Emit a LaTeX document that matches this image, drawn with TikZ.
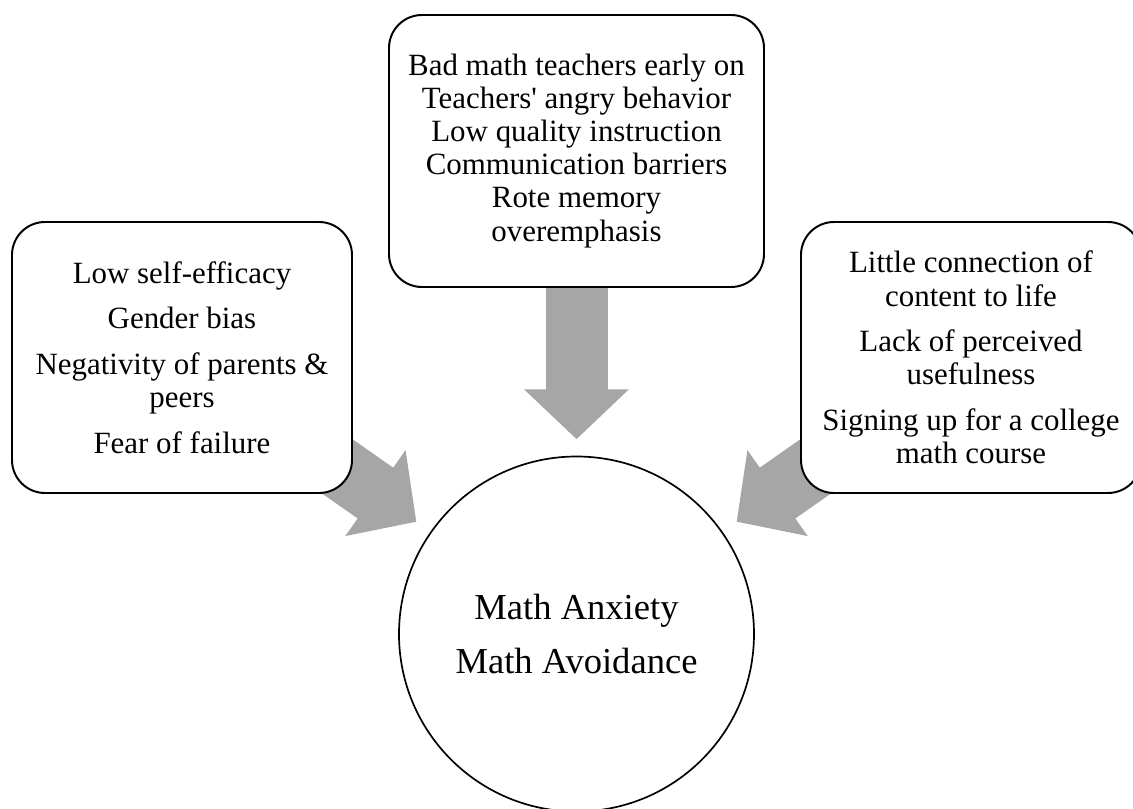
\documentclass[tikz,border=0pt]{standalone}
\usepackage{fontspec}
\setmainfont{Liberation Serif}
\usetikzlibrary{arrows.meta, positioning, backgrounds}
\definecolor{arrowgray}{RGB}{166, 166, 166}
\tikzset{
  causebox/.style={draw, line width=1.4pt, rounded corners=0.825cm, fill=white, align=center, inner sep=0pt, font=\fontsize{22}{23.5}\selectfont},
  corecircle/.style={draw, circle, line width=1.2pt, fill=white, minimum size=8.875cm, inner sep=0pt, align=center, font=\fontsize{26}{38.4}\selectfont},
  bigarrow/.style={arrowgray, line width=1.55cm, -{Triangle[length=1.25cm, width=2.55cm]}}
}

\begin{document}
\begin{tikzpicture}
  \useasboundingbox (-14.4125, -4.4) rectangle (13.9125, 15.8);

  % Outcome
  \node[corecircle] (core) at (0, -0.05) {Math Anxiety\\Math Avoidance};

  % Causes
  \node[causebox, minimum width=8.5cm, minimum height=6.775cm] (self) at (-9.8625, 6.8625) {
    Low self-efficacy\\[9pt]
    Gender bias\\[9pt]
    Negativity of parents \&\\peers\\[9pt]
    Fear of failure
  };
  \node[causebox, minimum width=9.375cm, minimum height=6.8cm] (teach) at (0, 12.025) {
    Bad math teachers early on\\
    Teachers\textquotesingle{} angry behavior\\
    Low quality instruction\\
    Communication barriers\\
    Rote memory\\
    overemphasis
  };
  \node[causebox, minimum width=8.5cm, minimum height=6.775cm] (use) at (9.8625, 6.8625) {
    Little connection of\\content to life\\[9pt]
    Lack of perceived\\usefulness\\[9pt]
    Signing up for a college\\math course
  };

  % Arrows into the circle
  \begin{scope}[on background layer]
    \draw[bigarrow, shorten >=0.41cm] (teach.center) -- (core);
    \draw[bigarrow, shorten >=0.43cm] (self.center) -- (core);
    \draw[bigarrow, shorten >=0.43cm] (use.center) -- (core);
  \end{scope}
\end{tikzpicture}
\end{document}
